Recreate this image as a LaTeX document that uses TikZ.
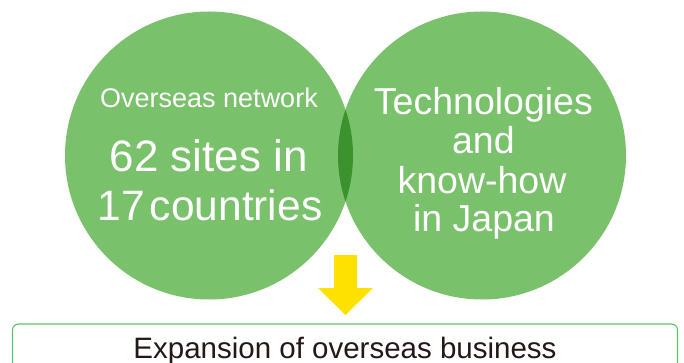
\documentclass[tikz,border=0pt]{standalone}
\usepackage{fontspec}
\setmainfont{Liberation Sans}
\definecolor{circ}{HTML}{7AC16C}
\definecolor{lens}{HTML}{3C922E}
\definecolor{arrowy}{HTML}{FFE100}
\definecolor{boxg}{HTML}{5CC36A}
\definecolor{txt}{HTML}{231815}
\tikzset{
  bubble/.style={circle, fill=circ, minimum size=288pt, inner sep=0pt},
  wtext/.style={anchor=base, text=white, inner sep=0pt},
  resultbox/.style={draw=boxg, line width=1.1pt, rounded corners=6pt},
}
\begin{document}
\begin{tikzpicture}[x=1pt,y=-1pt]
\useasboundingbox (0,0) rectangle (684,363);
\node[bubble] (left) at (209,155.5) {};
\node[bubble] (right) at (482,155.5) {};
\begin{scope}
  \clip (209,155.5) circle[radius=144];
  \fill[lens] (482,155.5) circle[radius=144];
\end{scope}
% arrow
\fill[arrowy] (334,255) -- (357,255) -- (357,288) -- (373,288) -- (345.5,315) -- (318,288) -- (334,288) -- cycle;
% result box
\draw[resultbox] (12.5,324) rectangle (677.5,390);
% texts
\node[wtext, font=\fontsize{27}{30}\selectfont] (net) at (209,107.3) {Overseas network};
\node[wtext, font=\fontsize{44}{48}\selectfont] (sites) at (208.8,171.7) {62 sites in};
\node[wtext, font=\fontsize{42.5}{48}\selectfont] (countries) at (210,220) {17\hspace{5pt}countries};
\node[wtext, font=\fontsize{37.5}{40}\selectfont] (tech) at (483.4,115) {Technologies};
\node[wtext, font=\fontsize{37.5}{40}\selectfont] (and) at (483.4,153.3) {and};
\node[wtext, font=\fontsize{37.5}{40}\selectfont] (know) at (482,193.3) {know-how};
\node[wtext, font=\fontsize{37.5}{40}\selectfont] (japan) at (484,231.7) {in Japan};
\node[anchor=base, text=txt, inner sep=0pt, font=\fontsize{29.5}{32}\selectfont] (result) at (345,358.5) {Expansion of overseas business};
\end{tikzpicture}
\end{document}
